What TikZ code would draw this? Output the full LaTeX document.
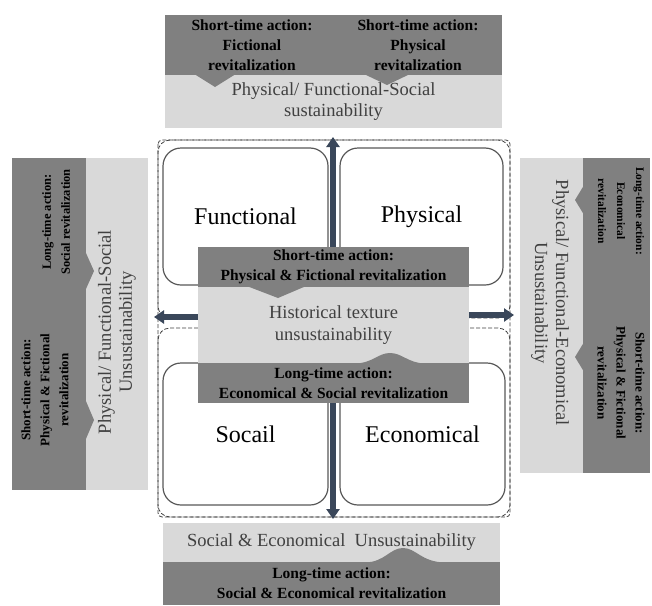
\documentclass[tikz,border=0pt]{standalone}
\usepackage{fontspec}
\setmainfont{Liberation Serif}
\usetikzlibrary{arrows.meta}
\definecolor{darkg}{RGB}{128,128,128}
\definecolor{lightg}{RGB}{217,217,217}
\definecolor{arrowc}{RGB}{58,71,90}
\definecolor{lgtxt}{RGB}{64,64,64}
\begin{document}
\begin{tikzpicture}[x=1pt,y=-1pt,
 btxt/.style={font=\fontsize{15.5}{20}\selectfont\bfseries, align=center, inner sep=0},
 rtxt/.style={font=\fontsize{13}{19}\selectfont\bfseries, align=center, inner sep=0},
 ltxt/.style={font=\fontsize{18.5}{21}\selectfont, text=lgtxt, align=center, inner sep=0},
 bigtxt/.style={font=\fontsize{24}{28}\selectfont},
 rbox/.style={draw=black!65, line width=1.2pt, rounded corners=18pt, fill=white, inner sep=0},
 dbox/.style={draw=black!75, line width=0.8pt, dash pattern=on 4pt off 2pt},
 darkpart/.style={fill=darkg, inner sep=0},
 lightpart/.style={fill=lightg, inner sep=0},
 bigarrow/.style={draw=arrowc, line width=5.5pt, -{Triangle[length=10pt,width=13pt]}}
]
\useasboundingbox (0,0) rectangle (652,605);
\fill[white] (0,0) rectangle (652,605);

% ---------- dashed frames ----------
\draw[dbox, rounded corners=12pt] (158,140) rectangle (510,318);
\draw[dbox, rounded corners=12pt] (158,328) rectangle (510,517);
\draw[dbox, rounded corners=4pt] (158,140) rectangle (510,517);

% ---------- four rounded boxes ----------
\node[rbox, minimum width=165pt, minimum height=137pt, bigtxt] (func) at (245.5,216.5) {Functional};
\node[rbox, minimum width=163pt, minimum height=137pt, bigtxt] (phys) at (421.5,216.5) {Physical};
\node[rbox, minimum width=165pt, minimum height=142pt, bigtxt] (soc) at (245.5,434) {Socail};
\node[rbox, minimum width=165pt, minimum height=142pt, bigtxt] (eco) at (422.5,434) {Economical};

% ---------- arrow ends ----------
\coordinate (uE) at (333,137);
\coordinate (dE) at (333,519);
\coordinate (lE) at (154,317);
\coordinate (rE) at (514,315);

% ---------- centre callout ----------
\node[darkpart, minimum width=271pt, minimum height=40pt, btxt] (ctop) at (333.5,267) {Short-time action:\\Physical \& Fictional revitalization};
\node[lightpart, minimum width=271pt, minimum height=76pt, ltxt, font=\fontsize{18.5}{22}\selectfont] (cmid) at (333.5,325) {Historical texture\\unsustainability};
\node[darkpart, minimum width=271pt, minimum height=40pt, btxt] (cbot) at (333.5,383) {Long-time action:\\Economical \& Social revitalization};
\fill[darkg] (248,286.5) -- (278,298) -- (305,286.5) -- cycle;
\fill[darkg] (355,363.5) .. controls (373,363) and (378,353) .. (390,353) .. controls (402,353) and (408,363) .. (425,363.5) -- cycle;

\draw[bigarrow] (uE |- ctop.north) -- (uE);
\draw[bigarrow] (dE |- cbot.south) -- (dE);
\draw[bigarrow] (lE -| cmid.west) -- (lE);
\draw[bigarrow] (rE -| cmid.east) -- (rE);

% ---------- top callout ----------
\node[darkpart, minimum width=337pt, minimum height=60pt] (tdark) at (333.5,45) {};
\node[lightpart, minimum width=337pt, minimum height=53pt, ltxt] (tlight) at (333.5,101.5) {Physical/ Functional-Social\\sustainability};
\fill[darkg] (195,74.5) -- (215,87) -- (235,74.5) -- cycle;
\fill[darkg] (365,74.5) -- (387,85) -- (409,74.5) -- cycle;
\node[btxt] (ttxt1) at (252,45) {Short-time action:\\Fictional\\revitalization};
\node[btxt] (ttxt2) at (418,45) {Short-time action:\\Physical\\revitalization};

% ---------- left callout ----------
\node[darkpart, minimum width=74pt, minimum height=332pt] (ldark) at (49,324) {};
\node[lightpart, minimum width=62pt, minimum height=332pt] (llight) at (117,324) {};
\fill[darkg] (85.5,252) -- (94,271) -- (85.5,290) -- cycle;
\fill[darkg] (85.5,400) -- (94,420) -- (85.5,440) -- cycle;
\node[rtxt, font=\fontsize{12.5}{19}\selectfont\bfseries, rotate=90] (ltxt1) at (56,222) {Long-time action:\\Social revitalization};
\node[rtxt, rotate=90] (ltxt2) at (45,390) {Short-time action:\\Physical \& Fictional\\revitalization};
\node[ltxt, rotate=90] (ltxt3) at (117,332) {Physical/ Functional-Social\\Unsustainability};

% ---------- right callout ----------
\node[lightpart, minimum width=63pt, minimum height=315pt] (rlight) at (551.5,315.5) {};
\node[darkpart, minimum width=67pt, minimum height=315pt] (rdark) at (616.5,315.5) {};
\fill[darkg] (583.5,186) -- (575,200) -- (583.5,214) -- cycle;
\fill[darkg] (583.5,343) -- (575,357) -- (583.5,371) -- cycle;
\node[rtxt, font=\fontsize{11.5}{19}\selectfont\bfseries, rotate=-90] (rtxt1) at (621,211) {Long-time action:\\Economical\\revitalization};
\node[rtxt, rotate=-90] (rtxt2) at (621,383) {Short-time action:\\Physical \& Fictional\\revitalization};
\node[ltxt, rotate=-90] (rtxt3) at (550,303) {Physical/ Functional-Economical\\Unsustainability};

% ---------- bottom callout ----------
\node[lightpart, minimum width=337pt, minimum height=39pt, ltxt] (blight) at (331.5,542.5) {Social \& Economical\ \ Unsustainability};
\node[darkpart, minimum width=337pt, minimum height=43pt, btxt] (bdark) at (331.5,583.5) {Long-time action:\\Social \& Economical revitalization};
\fill[darkg] (365,562.5) .. controls (385,562) and (390,548) .. (403,548) .. controls (416,548) and (421,562) .. (445,562.5) -- cycle;
\end{tikzpicture}
\end{document}
